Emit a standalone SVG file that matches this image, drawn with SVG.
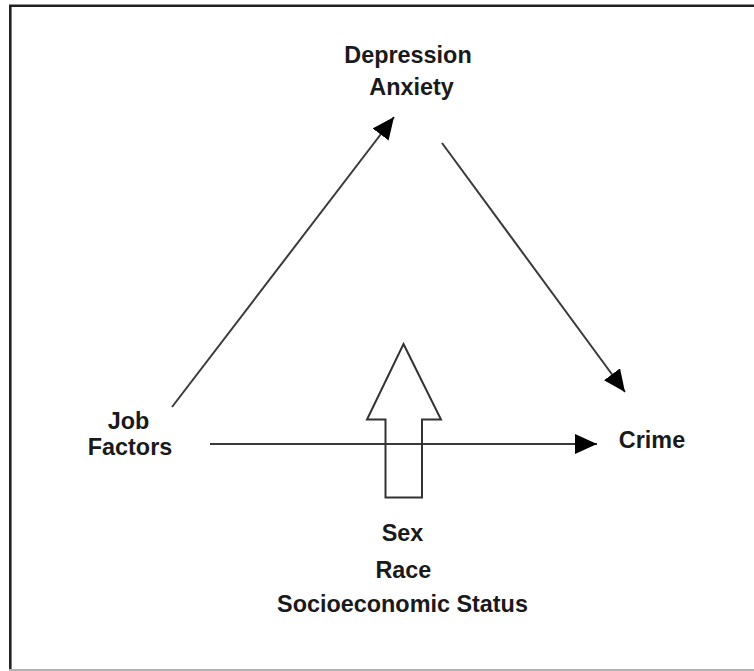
<svg xmlns="http://www.w3.org/2000/svg" width="754" height="671" viewBox="0 0 754 671">
<style>
.lbl{font-family:"Liberation Sans",Arial,sans-serif;font-weight:bold;font-size:23.4px;fill:#1a1a1a;text-anchor:middle}
.conn{stroke:#3a3a3a;stroke-width:2;fill:none}
.head{fill:#000}
</style>
<defs>
<marker id="ah" viewBox="0 0 22 20" refX="22" refY="10" markerWidth="22" markerHeight="20" markerUnits="userSpaceOnUse" orient="auto">
<path class="head" d="M0,0 L22,10 L0,20 Z"/>
</marker>
</defs>
<rect x="0" y="0" width="754" height="671" fill="#fff"/>
<g id="frame">
<path d="M760,5.7 H10.3 V669" fill="none" stroke="#222" stroke-width="2.6"/>
<line x1="9" y1="670" x2="760" y2="670" stroke="#999" stroke-width="1.6"/>
</g>
<g id="connectors">
<line class="conn" x1="172" y1="407" x2="394" y2="117" marker-end="url(#ah)"/>
<line class="conn" x1="442" y1="143" x2="625" y2="392" marker-end="url(#ah)"/>
<line class="conn" x1="210" y1="444" x2="597" y2="444" marker-end="url(#ah)"/>
</g>
<g id="block-arrow">
<path d="M403.5,344 L441,419.5 L422,419.5 L422,497.5 L385.5,497.5 L385.5,419.5 L367,419.5 Z" fill="#fff" fill-opacity="0" stroke="#333" stroke-width="2"/>
</g>
<g id="node-depression">
<text class="lbl" x="408" y="63">Depression</text>
<text class="lbl" x="411.5" y="95">Anxiety</text>
</g>
<g id="node-job">
<text class="lbl" x="128.5" y="429">Job</text>
<text class="lbl" x="130" y="455">Factors</text>
</g>
<g id="node-crime">
<text class="lbl" x="652" y="448">Crime</text>
</g>
<g id="node-covariates">
<text class="lbl" x="402.5" y="541">Sex</text>
<text class="lbl" x="403.4" y="578">Race</text>
<text class="lbl" x="402.5" y="612">Socioeconomic Status</text>
</g>
</svg>
